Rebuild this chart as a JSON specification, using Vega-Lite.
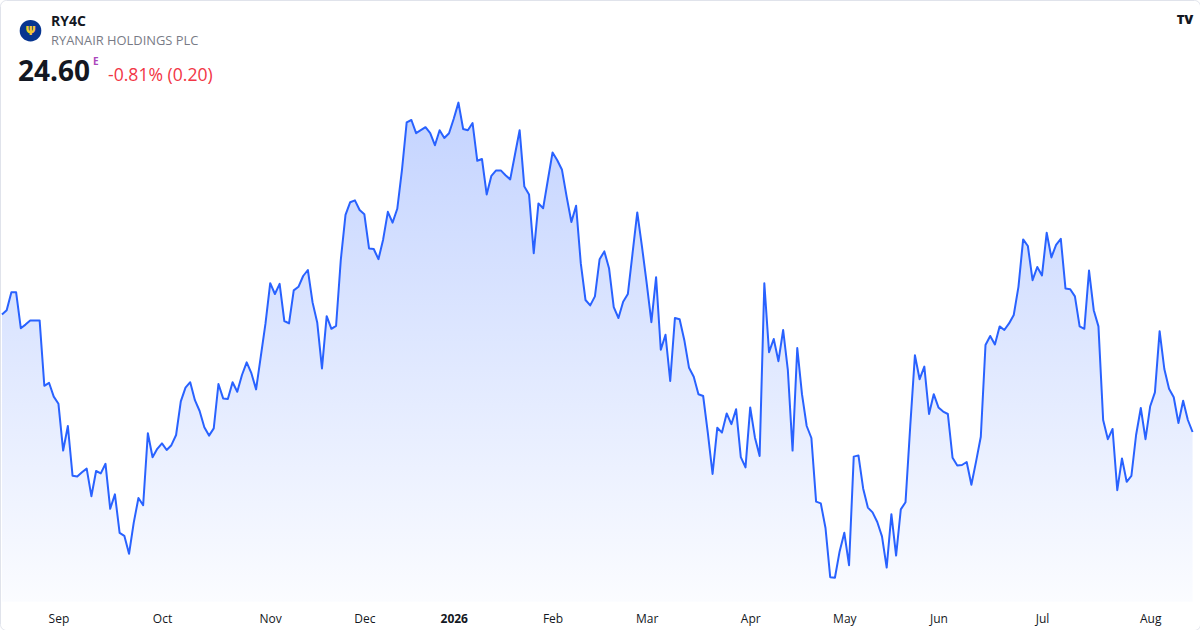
{
  "$schema": "https://vega.github.io/schema/vega-lite/v6.json",
  "width": 1200,
  "height": 630,
  "autosize": "none",
  "padding": 0,
  "background": "white",
  "config": {
    "view": {"stroke": "#e0e3eb", "strokeWidth": 1, "cornerRadius": 6},
    "font": "Open Sans"
  },
  "data": {
    "values": [
      {"date": "2025-08-14", "close": 26.56}, {"date": "2025-08-15", "close": 26.63}, {"date": "2025-08-18", "close": 26.93},
      {"date": "2025-08-19", "close": 26.93}, {"date": "2025-08-20", "close": 26.33}, {"date": "2025-08-21", "close": 26.39},
      {"date": "2025-08-22", "close": 26.46}, {"date": "2025-08-25", "close": 26.46}, {"date": "2025-08-26", "close": 26.46},
      {"date": "2025-08-27", "close": 25.37}, {"date": "2025-08-28", "close": 25.42}, {"date": "2025-08-29", "close": 25.19},
      {"date": "2025-09-01", "close": 25.07}, {"date": "2025-09-02", "close": 24.29}, {"date": "2025-09-03", "close": 24.70},
      {"date": "2025-09-04", "close": 23.87}, {"date": "2025-09-05", "close": 23.86}, {"date": "2025-09-08", "close": 23.93},
      {"date": "2025-09-09", "close": 23.99}, {"date": "2025-09-10", "close": 23.53}, {"date": "2025-09-11", "close": 23.95},
      {"date": "2025-09-12", "close": 23.91}, {"date": "2025-09-15", "close": 24.07}, {"date": "2025-09-16", "close": 23.32},
      {"date": "2025-09-17", "close": 23.56}, {"date": "2025-09-18", "close": 22.92}, {"date": "2025-09-19", "close": 22.87},
      {"date": "2025-09-22", "close": 22.57}, {"date": "2025-09-23", "close": 23.09}, {"date": "2025-09-24", "close": 23.50},
      {"date": "2025-09-25", "close": 23.38}, {"date": "2025-09-26", "close": 24.58}, {"date": "2025-09-29", "close": 24.18},
      {"date": "2025-09-30", "close": 24.32}, {"date": "2025-10-01", "close": 24.41}, {"date": "2025-10-02", "close": 24.30},
      {"date": "2025-10-03", "close": 24.38}, {"date": "2025-10-06", "close": 24.55}, {"date": "2025-10-07", "close": 25.11},
      {"date": "2025-10-08", "close": 25.34}, {"date": "2025-10-09", "close": 25.43}, {"date": "2025-10-10", "close": 25.13},
      {"date": "2025-10-13", "close": 24.95}, {"date": "2025-10-14", "close": 24.68}, {"date": "2025-10-15", "close": 24.54},
      {"date": "2025-10-16", "close": 24.66}, {"date": "2025-10-17", "close": 25.40}, {"date": "2025-10-20", "close": 25.16},
      {"date": "2025-10-21", "close": 25.15}, {"date": "2025-10-22", "close": 25.43}, {"date": "2025-10-23", "close": 25.27},
      {"date": "2025-10-24", "close": 25.55}, {"date": "2025-10-27", "close": 25.76}, {"date": "2025-10-28", "close": 25.58},
      {"date": "2025-10-29", "close": 25.31}, {"date": "2025-10-30", "close": 25.86}, {"date": "2025-10-31", "close": 26.41},
      {"date": "2025-11-03", "close": 27.08}, {"date": "2025-11-04", "close": 26.90}, {"date": "2025-11-05", "close": 27.07},
      {"date": "2025-11-06", "close": 26.45}, {"date": "2025-11-07", "close": 26.41}, {"date": "2025-11-10", "close": 26.96},
      {"date": "2025-11-11", "close": 27.02}, {"date": "2025-11-12", "close": 27.20}, {"date": "2025-11-13", "close": 27.30},
      {"date": "2025-11-14", "close": 26.76}, {"date": "2025-11-17", "close": 26.42}, {"date": "2025-11-18", "close": 25.66},
      {"date": "2025-11-19", "close": 26.53}, {"date": "2025-11-20", "close": 26.32}, {"date": "2025-11-21", "close": 26.37},
      {"date": "2025-11-24", "close": 27.47}, {"date": "2025-11-25", "close": 28.22}, {"date": "2025-11-26", "close": 28.43},
      {"date": "2025-11-27", "close": 28.46}, {"date": "2025-11-28", "close": 28.30}, {"date": "2025-12-01", "close": 28.23},
      {"date": "2025-12-02", "close": 27.66}, {"date": "2025-12-03", "close": 27.65}, {"date": "2025-12-04", "close": 27.48},
      {"date": "2025-12-05", "close": 27.81}, {"date": "2025-12-08", "close": 28.27}, {"date": "2025-12-09", "close": 28.09},
      {"date": "2025-12-10", "close": 28.32}, {"date": "2025-12-11", "close": 28.97}, {"date": "2025-12-12", "close": 29.76},
      {"date": "2025-12-15", "close": 29.80}, {"date": "2025-12-16", "close": 29.58}, {"date": "2025-12-17", "close": 29.63},
      {"date": "2025-12-18", "close": 29.68}, {"date": "2025-12-19", "close": 29.58}, {"date": "2025-12-22", "close": 29.38},
      {"date": "2025-12-23", "close": 29.63}, {"date": "2025-12-29", "close": 29.50}, {"date": "2025-12-30", "close": 29.58},
      {"date": "2026-01-02", "close": 29.82}, {"date": "2026-01-05", "close": 30.09}, {"date": "2026-01-06", "close": 29.65},
      {"date": "2026-01-07", "close": 29.63}, {"date": "2026-01-08", "close": 29.75}, {"date": "2026-01-09", "close": 29.12},
      {"date": "2026-01-12", "close": 29.15}, {"date": "2026-01-13", "close": 28.56}, {"date": "2026-01-14", "close": 28.87},
      {"date": "2026-01-15", "close": 28.96}, {"date": "2026-01-16", "close": 28.96}, {"date": "2026-01-19", "close": 28.88},
      {"date": "2026-01-20", "close": 28.81}, {"date": "2026-01-21", "close": 29.22}, {"date": "2026-01-22", "close": 29.63},
      {"date": "2026-01-23", "close": 28.69}, {"date": "2026-01-26", "close": 28.56}, {"date": "2026-01-27", "close": 27.58},
      {"date": "2026-01-28", "close": 28.41}, {"date": "2026-01-29", "close": 28.33}, {"date": "2026-01-30", "close": 28.80},
      {"date": "2026-02-02", "close": 29.26}, {"date": "2026-02-03", "close": 29.13}, {"date": "2026-02-04", "close": 28.97},
      {"date": "2026-02-05", "close": 28.52}, {"date": "2026-02-06", "close": 28.10}, {"date": "2026-02-09", "close": 28.37},
      {"date": "2026-02-10", "close": 27.41}, {"date": "2026-02-11", "close": 26.80}, {"date": "2026-02-12", "close": 26.71},
      {"date": "2026-02-13", "close": 26.86}, {"date": "2026-02-16", "close": 27.48}, {"date": "2026-02-17", "close": 27.61},
      {"date": "2026-02-18", "close": 27.33}, {"date": "2026-02-19", "close": 26.68}, {"date": "2026-02-20", "close": 26.50},
      {"date": "2026-02-23", "close": 26.77}, {"date": "2026-02-24", "close": 26.90}, {"date": "2026-02-25", "close": 27.58},
      {"date": "2026-02-26", "close": 28.26}, {"date": "2026-02-27", "close": 27.69}, {"date": "2026-03-02", "close": 27.08},
      {"date": "2026-03-03", "close": 26.43}, {"date": "2026-03-04", "close": 27.18}, {"date": "2026-03-05", "close": 25.97},
      {"date": "2026-03-06", "close": 26.22}, {"date": "2026-03-09", "close": 25.45}, {"date": "2026-03-10", "close": 26.50},
      {"date": "2026-03-11", "close": 26.48}, {"date": "2026-03-12", "close": 26.13}, {"date": "2026-03-13", "close": 25.67},
      {"date": "2026-03-16", "close": 25.52}, {"date": "2026-03-17", "close": 25.23}, {"date": "2026-03-18", "close": 25.20},
      {"date": "2026-03-19", "close": 24.58}, {"date": "2026-03-20", "close": 23.90}, {"date": "2026-03-23", "close": 24.67},
      {"date": "2026-03-24", "close": 24.59}, {"date": "2026-03-25", "close": 24.91}, {"date": "2026-03-26", "close": 24.73},
      {"date": "2026-03-27", "close": 24.98}, {"date": "2026-03-30", "close": 24.18}, {"date": "2026-03-31", "close": 24.01},
      {"date": "2026-04-01", "close": 25.01}, {"date": "2026-04-02", "close": 24.51}, {"date": "2026-04-07", "close": 24.20},
      {"date": "2026-04-08", "close": 27.08}, {"date": "2026-04-09", "close": 25.93}, {"date": "2026-04-10", "close": 26.15},
      {"date": "2026-04-13", "close": 25.78}, {"date": "2026-04-14", "close": 26.30}, {"date": "2026-04-15", "close": 25.63},
      {"date": "2026-04-16", "close": 24.29}, {"date": "2026-04-17", "close": 26.00}, {"date": "2026-04-20", "close": 25.23},
      {"date": "2026-04-21", "close": 24.70}, {"date": "2026-04-22", "close": 24.50}, {"date": "2026-04-23", "close": 23.44},
      {"date": "2026-04-24", "close": 23.41}, {"date": "2026-04-27", "close": 23.00}, {"date": "2026-04-28", "close": 22.18},
      {"date": "2026-04-29", "close": 22.17}, {"date": "2026-04-30", "close": 22.61}, {"date": "2026-05-04", "close": 22.92},
      {"date": "2026-05-05", "close": 22.38}, {"date": "2026-05-06", "close": 24.19}, {"date": "2026-05-07", "close": 24.21},
      {"date": "2026-05-08", "close": 23.66}, {"date": "2026-05-11", "close": 23.34}, {"date": "2026-05-12", "close": 23.26},
      {"date": "2026-05-13", "close": 23.10}, {"date": "2026-05-14", "close": 22.86}, {"date": "2026-05-15", "close": 22.34},
      {"date": "2026-05-18", "close": 23.23}, {"date": "2026-05-19", "close": 22.54}, {"date": "2026-05-20", "close": 23.31},
      {"date": "2026-05-21", "close": 23.43}, {"date": "2026-05-22", "close": 24.69}, {"date": "2026-05-25", "close": 25.88},
      {"date": "2026-05-26", "close": 25.48}, {"date": "2026-05-27", "close": 25.69}, {"date": "2026-05-28", "close": 24.90},
      {"date": "2026-05-29", "close": 25.23}, {"date": "2026-06-01", "close": 25.01}, {"date": "2026-06-02", "close": 24.94},
      {"date": "2026-06-03", "close": 24.90}, {"date": "2026-06-04", "close": 24.17}, {"date": "2026-06-05", "close": 24.04},
      {"date": "2026-06-08", "close": 24.05}, {"date": "2026-06-09", "close": 24.10}, {"date": "2026-06-10", "close": 23.72},
      {"date": "2026-06-11", "close": 24.11}, {"date": "2026-06-12", "close": 24.52}, {"date": "2026-06-15", "close": 26.05},
      {"date": "2026-06-16", "close": 26.20}, {"date": "2026-06-17", "close": 26.06}, {"date": "2026-06-18", "close": 26.36},
      {"date": "2026-06-19", "close": 26.30}, {"date": "2026-06-22", "close": 26.41}, {"date": "2026-06-23", "close": 26.55},
      {"date": "2026-06-24", "close": 27.02}, {"date": "2026-06-25", "close": 27.81}, {"date": "2026-06-26", "close": 27.70},
      {"date": "2026-06-29", "close": 27.13}, {"date": "2026-06-30", "close": 27.35}, {"date": "2026-07-01", "close": 27.21},
      {"date": "2026-07-02", "close": 27.92}, {"date": "2026-07-03", "close": 27.51}, {"date": "2026-07-06", "close": 27.72},
      {"date": "2026-07-07", "close": 27.82}, {"date": "2026-07-08", "close": 26.99}, {"date": "2026-07-09", "close": 26.98},
      {"date": "2026-07-10", "close": 26.86}, {"date": "2026-07-13", "close": 26.36}, {"date": "2026-07-14", "close": 26.32},
      {"date": "2026-07-15", "close": 27.29}, {"date": "2026-07-16", "close": 26.63}, {"date": "2026-07-17", "close": 26.36},
      {"date": "2026-07-20", "close": 24.80}, {"date": "2026-07-21", "close": 24.48}, {"date": "2026-07-22", "close": 24.65},
      {"date": "2026-07-23", "close": 23.63}, {"date": "2026-07-24", "close": 24.16}, {"date": "2026-07-27", "close": 23.77},
      {"date": "2026-07-28", "close": 23.87}, {"date": "2026-07-29", "close": 24.55}, {"date": "2026-07-30", "close": 25.00},
      {"date": "2026-07-31", "close": 24.48}, {"date": "2026-08-03", "close": 25.03}, {"date": "2026-08-04", "close": 25.26},
      {"date": "2026-08-05", "close": 26.28}, {"date": "2026-08-06", "close": 25.65}, {"date": "2026-08-07", "close": 25.32},
      {"date": "2026-08-10", "close": 25.18}, {"date": "2026-08-11", "close": 24.75}, {"date": "2026-08-12", "close": 25.12},
      {"date": "2026-08-13", "close": 24.80}, {"date": "2026-08-14", "close": 24.60}
    ]
  },
  "layer": [
    {
      "mark": {
        "type": "area",
        "interpolate": "linear",
        "fill": {
          "gradient": "linear",
          "x1": 0, "y1": 0, "x2": 0, "y2": 1,
          "stops": [
            {"offset": 0, "color": "rgba(41,98,255,0.28)"},
            {"offset": 1, "color": "rgba(41,98,255,0.02)"}
          ]
        }
      },
      "encoding": {
        "x": {
          "field": "date",
          "type": "ordinal",
          "scale": {"type": "point", "padding": 1.16, "align": 0.21},
          "axis": {
            "title": null,
            "values": ["2025-09-01", "2025-10-01", "2025-11-03", "2025-12-01", "2026-01-02", "2026-02-02", "2026-03-02", "2026-04-01", "2026-05-04", "2026-06-01", "2026-07-01", "2026-08-03"],
            "labelExpr": "substring(datum.value,5,7) == '01' ? substring(datum.value,0,4) : timeFormat(datetime(toNumber(substring(datum.value,0,4)), toNumber(substring(datum.value,5,7)) - 1, 15), '%b')",
            "labelFontWeight": {"condition": {"test": "substring(datum.value,5,7) == '01'", "value": "bold"}, "value": "normal"},
            "labelAngle": 0,
            "labelFont": "Open Sans",
            "labelFontSize": 12,
            "labelColor": "#131722",
            "labelBaseline": "middle",
            "labelPadding": -12,
            "labelOverlap": false,
            "labelFlush": false,
            "labelBound": false,
            "domain": false,
            "ticks": false,
            "tickSize": 0,
            "grid": false
          }
        },
        "y": {
          "field": "close",
          "type": "quantitative",
          "scale": {"domain": [21.3, 31.8], "zero": false, "nice": false},
          "axis": null
        },
        "y2": {"datum": 21.77}
      }
    },
    {
      "mark": {"type": "line", "color": "#2962ff", "strokeWidth": 2, "strokeJoin": "round"},
      "encoding": {
        "x": {"field": "date", "type": "ordinal"},
        "y": {"field": "close", "type": "quantitative"}
      }
    },
    {
      "data": {"values": [{"logo": "RY4C"}]},
      "mark": {"type": "point", "shape": "circle", "filled": true, "size": 467, "color": "#073590", "opacity": 1},
      "encoding": {"x": {"value": 30.5}, "y": {"value": 30.7}}
    },
    {
      "data": {"values": [{"label": "Ψ"}]},
      "mark": {"type": "text", "font": "DejaVu Sans", "fontSize": 12, "fontWeight": "bold", "color": "#f1c933", "align": "center", "baseline": "middle"},
      "encoding": {"text": {"field": "label"}, "x": {"value": 30.5}, "y": {"value": 31}}
    },
    {
      "data": {"values": [{"label": "RY4C"}]},
      "mark": {"type": "text", "font": "Open Sans", "fontSize": 14, "fontWeight": "bold", "color": "#131722", "align": "left", "baseline": "alphabetic"},
      "encoding": {"text": {"field": "label"}, "x": {"value": 51}, "y": {"value": 26}}
    },
    {
      "data": {"values": [{"label": "RYANAIR HOLDINGS PLC"}]},
      "mark": {"type": "text", "font": "Open Sans", "fontSize": 12.9, "color": "#787b86", "align": "left", "baseline": "alphabetic"},
      "encoding": {"text": {"field": "label"}, "x": {"value": 51}, "y": {"value": 45}}
    },
    {
      "data": {"values": [{"label": "24.60"}]},
      "mark": {"type": "text", "font": "Open Sans", "fontSize": 28, "fontWeight": "bold", "color": "#131722", "align": "left", "baseline": "alphabetic"},
      "encoding": {"text": {"field": "label"}, "x": {"value": 18}, "y": {"value": 81}}
    },
    {
      "data": {"values": [{"label": "E"}]},
      "mark": {"type": "text", "font": "Open Sans", "fontSize": 10, "fontWeight": "bold", "color": "#ab47bc", "align": "left", "baseline": "alphabetic"},
      "encoding": {"text": {"field": "label"}, "x": {"value": 93}, "y": {"value": 65}}
    },
    {
      "data": {"values": [{"label": "-0.81% (0.20)"}]},
      "mark": {"type": "text", "font": "Open Sans", "fontSize": 17.6, "color": "#f23645", "align": "left", "baseline": "alphabetic"},
      "encoding": {"text": {"field": "label"}, "x": {"value": 108}, "y": {"value": 81}}
    },
    {
      "data": {"values": [{"label": "TV"}]},
      "mark": {"type": "text", "font": "Open Sans", "fontSize": 13, "fontWeight": 800, "color": "#131722", "align": "center", "baseline": "middle"},
      "encoding": {"text": {"field": "label"}, "x": {"value": 1185}, "y": {"value": 20}}
    }
  ]
}
